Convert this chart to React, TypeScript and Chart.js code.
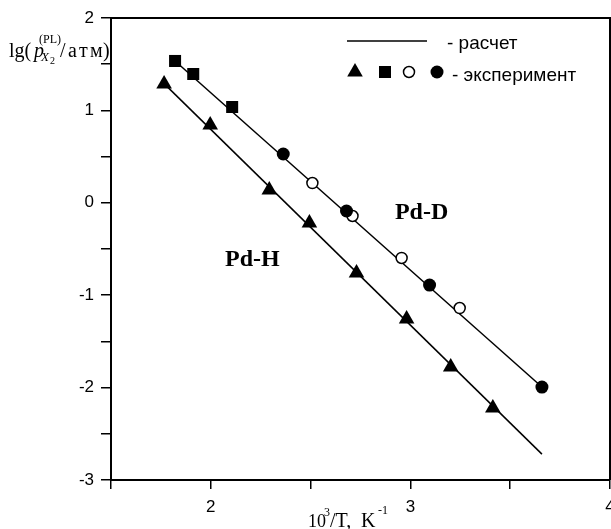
import React, { useEffect, useRef } from 'react';
import { Chart, registerables } from 'chart.js';

Chart.register(...registerables);

// Pd-H experiment (triangles)
const pdHTriX = [1.766, 1.997, 2.293, 2.494, 2.730, 2.981, 3.202, 3.413];
const pdHTriY = [1.286, 0.842, 0.139, -0.219, -0.760, -1.258, -1.777, -2.221];
// Pd-D experiment (squares)
const pdDSqX = [1.821, 1.912, 2.107];
const pdDSqY = [1.535, 1.394, 1.037];
// Pd-D experiment (filled circles)
const pdDFillX = [2.363, 2.680, 3.096, 3.659];
const pdDFillY = [0.528, -0.089, -0.890, -1.994];
// Pd-D experiment (open circles)
const pdDOpenX = [2.509, 2.710, 2.956, 3.247];
const pdDOpenY = [0.214, -0.143, -0.597, -1.139];
// calculated lines (endpoints)
const calcHX = [1.766, 3.659];
const calcHY = [1.29, -2.72];
const calcDX = [1.821, 3.659];
const calcDY = [1.535, -1.994];

// axis
const xMin = 1.5, xMax = 4, yMin = -3, yMax = 2, tickStep = 0.5;

// annotations
const labelPdD = { text: 'Pd-D', x: 3.056, y: -0.11 };
const labelPdH = { text: 'Pd-H', x: 2.208, y: -0.619 };
const legendCalc = '- расчет';
const legendExp = '- эксперимент';

const pts = (xs: number[], ys: number[]) => xs.map((x, i) => ({ x, y: ys[i] }));

const SANS = '"Liberation Sans", Arial, sans-serif';
const SERIF = '"Liberation Serif", "Times New Roman", serif';

const overlay = {
  id: 'overlay',
  afterDraw(chart: any) {
    const { ctx, chartArea, scales } = chart;
    const { left, top, right, bottom } = chartArea;
    const xs = scales.x, ys = scales.y;
    ctx.save();
    // box top/right
    ctx.strokeStyle = '#000';
    ctx.lineWidth = 2;
    ctx.beginPath();
    ctx.moveTo(left, top);
    ctx.lineTo(right, top);
    ctx.lineTo(right, bottom);
    ctx.stroke();

    ctx.fillStyle = '#000';
    ctx.textBaseline = 'middle';
    ctx.textAlign = 'center';
    ctx.font = `bold 24px ${SERIF}`;
    ctx.fillText(labelPdD.text, xs.getPixelForValue(labelPdD.x), ys.getPixelForValue(labelPdD.y));
    ctx.fillText(labelPdH.text, xs.getPixelForValue(labelPdH.x), ys.getPixelForValue(labelPdH.y));

    // legend
    ctx.lineWidth = 1.5;
    ctx.beginPath();
    ctx.moveTo(347, 41);
    ctx.lineTo(427, 41);
    ctx.stroke();
    ctx.textAlign = 'left';
    ctx.font = `19px ${SANS}`;
    ctx.fillText(legendCalc, 447, 44);
    ctx.fillText(legendExp, 452, 76);
    const my = 72;
    const r = 9;
    ctx.beginPath();
    ctx.moveTo(355, my - r);
    ctx.lineTo(355 - r * Math.sin(Math.PI / 3), my + r / 2);
    ctx.lineTo(355 + r * Math.sin(Math.PI / 3), my + r / 2);
    ctx.closePath();
    ctx.fill();
    ctx.fillRect(379, my - 6, 12, 12);
    ctx.beginPath();
    ctx.arc(409, my, 5.5, 0, Math.PI * 2);
    ctx.lineWidth = 1.5;
    ctx.stroke();
    ctx.beginPath();
    ctx.arc(437, my, 6.5, 0, Math.PI * 2);
    ctx.fill();

    // y axis title: lg( p_{X2}^{(PL)} /атм)
    ctx.textBaseline = 'alphabetic';
    ctx.font = `20px ${SERIF}`;
    ctx.fillText('lg(', 9, 57);
    ctx.font = `italic 20px ${SERIF}`;
    ctx.fillText('p', 34, 57);
    ctx.font = `12px ${SERIF}`;
    ctx.fillText('(PL)', 39, 43);
    ctx.font = `italic 13px ${SERIF}`;
    ctx.fillText('X', 41, 61);
    ctx.font = `10px ${SERIF}`;
    ctx.fillText('2', 50, 64);
    ctx.font = `20px ${SERIF}`;
    ctx.fillText('/', 60, 57);
    ctx.fillText('а', 68, 57);
    ctx.fillText('т', 79, 57);
    ctx.fillText('м', 90, 57);
    ctx.fillText(')', 103, 57);

    // x axis title: 10^3/T, K^-1
    ctx.font = `18px ${SERIF}`;
    ctx.fillText('10', 308, 527);
    ctx.font = `12px ${SERIF}`;
    ctx.fillText('3', 324, 516);
    ctx.font = `20px ${SERIF}`;
    ctx.fillText('/T,', 330, 527);
    ctx.fillText('K', 361, 527);
    ctx.font = `12px ${SERIF}`;
    ctx.fillText('-1', 378, 514);
    ctx.restore();
  },
};

export default function App() {
  const ref = useRef<HTMLCanvasElement>(null);
  useEffect(() => {
    if (!ref.current) return;
    const black = '#000';
    const chart = new Chart(ref.current, {
      type: 'scatter',
      data: {
        datasets: [
          {
            data: pts(calcHX, calcHY), showLine: true, borderColor: black, borderWidth: 1.5,
            pointRadius: 0, order: 5,
          },
          {
            data: pts(calcDX, calcDY), showLine: true, borderColor: black, borderWidth: 1.5,
            pointRadius: 0, order: 5,
          },
          {
            data: pts(pdHTriX, pdHTriY), pointStyle: 'triangle', pointRadius: 9,
            backgroundColor: black, borderColor: black, borderWidth: 0, order: 1,
          },
          {
            data: pts(pdDSqX, pdDSqY), pointStyle: 'rect', pointRadius: 8.5,
            backgroundColor: black, borderColor: black, borderWidth: 0, order: 1,
          },
          {
            data: pts(pdDFillX, pdDFillY), pointStyle: 'circle', pointRadius: 6.5,
            backgroundColor: black, borderColor: black, borderWidth: 0, order: 1,
          },
          {
            data: pts(pdDOpenX, pdDOpenY), pointStyle: 'circle', pointRadius: 5.5,
            backgroundColor: '#fff', borderColor: black, borderWidth: 1.5, order: 1,
          },
        ],
      },
      options: {
        animation: false,
        responsive: false,
        layout: { padding: { top: 18, right: 0, left: 0, bottom: 0 } },
        plugins: { legend: { display: false }, tooltip: { enabled: false } },
        scales: {
          x: {
            type: 'linear', min: xMin, max: xMax,
            ticks: {
              stepSize: tickStep, color: black, font: { family: SANS, size: 17 }, padding: 8,
              callback: (v: any) => (Number.isInteger(v) ? String(v) : ''),
            },
            grid: { drawOnChartArea: false, drawTicks: true, tickLength: 9, color: black, lineWidth: 1.5 },
            border: { color: black, width: 2 },
            afterFit: (s: any) => { s.height = 49; s.paddingLeft = 0; s.paddingRight = 0; },
          },
          y: {
            type: 'linear', min: yMin, max: yMax,
            ticks: {
              stepSize: tickStep, color: black, font: { family: SANS, size: 17 }, padding: 7,
              callback: (v: any) => (Number.isInteger(v) ? String(v) : ''),
            },
            grid: { drawOnChartArea: false, drawTicks: true, tickLength: 10, color: black, lineWidth: 1.5 },
            border: { color: black, width: 2 },
            afterFit: (s: any) => { s.width = 111; s.paddingTop = 0; s.paddingBottom = 0; },
          },
        },
      },
      plugins: [overlay],
    });
    return () => chart.destroy();
  }, []);
  return (
    <div style={{ position: 'fixed', left: 0, top: 0, width: 611, height: 529, overflow: 'hidden', background: '#fff' }}>
      <canvas ref={ref} width={619} height={529} style={{ display: 'block' }} />
    </div>
  );
}
